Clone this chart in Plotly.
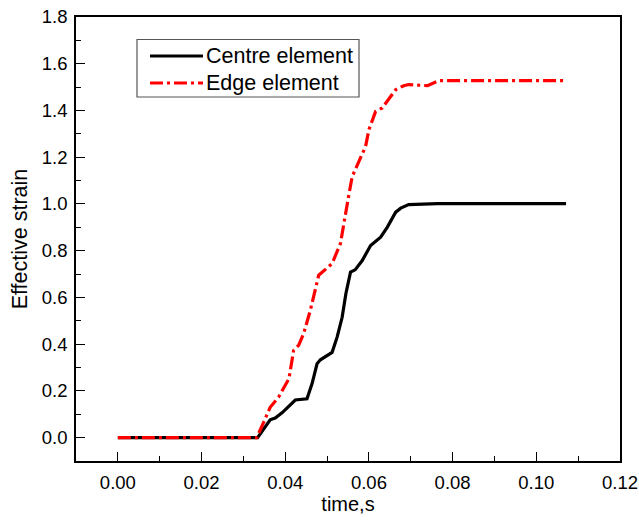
import plotly.graph_objects as go

# Data
centre_t = [0.0, 0.0334, 0.0364, 0.0376, 0.0393, 0.0424, 0.0452, 0.0464, 0.0476, 0.0484,
            0.0512, 0.0524, 0.0536, 0.0545, 0.0556, 0.0567, 0.0584, 0.0604, 0.0628,
            0.0644, 0.0664, 0.0676, 0.0695, 0.0752, 0.0764, 0.1071]
centre_v = [0.0, 0.0, 0.076, 0.084, 0.107, 0.161, 0.166, 0.230, 0.316, 0.333,
            0.365, 0.430, 0.515, 0.617, 0.708, 0.718, 0.758, 0.822, 0.858,
            0.901, 0.965, 0.982, 0.997, 0.998, 1.001, 1.001]

edge_t = [0.0, 0.0332, 0.0352, 0.0364, 0.0384, 0.0409, 0.0420, 0.0432, 0.0444, 0.0460,
          0.0480, 0.0500, 0.0512, 0.0532, 0.0544, 0.0552, 0.0560, 0.0580, 0.0592,
          0.0600, 0.0616, 0.0632, 0.0647, 0.0664, 0.0683, 0.0695, 0.0740, 0.0767, 0.1071]
edge_v = [0.0, 0.0, 0.080, 0.130, 0.173, 0.253, 0.373, 0.395, 0.445, 0.545,
          0.695, 0.724, 0.745, 0.831, 0.945, 1.039, 1.117, 1.203, 1.246,
          1.318, 1.396, 1.411, 1.446, 1.489, 1.506, 1.511, 1.506, 1.528, 1.528]

series_names = ["Centre element", "Edge element"]
x_ticks = [0.00, 0.02, 0.04, 0.06, 0.08, 0.10, 0.12]
y_ticks = [0.0, 0.2, 0.4, 0.6, 0.8, 1.0, 1.2, 1.4, 1.6, 1.8]

FONT = "Liberation Sans, Arial, sans-serif"
RED_DASH = "13px,4px,3px,4px"

fig = go.Figure()
fig.add_trace(go.Scatter(x=centre_t, y=centre_v, mode="lines", name=series_names[0],
                         line=dict(color="black", width=3.2), showlegend=False))
fig.add_trace(go.Scatter(x=edge_t, y=edge_v, mode="lines", name=series_names[1],
                         line=dict(color="#ff0000", width=3.2, dash=RED_DASH), showlegend=False))

axis_common = dict(
    showline=True, linecolor="black", linewidth=1.5, mirror=True,
    ticks="inside", ticklen=9, tickwidth=1.2, tickcolor="black",
    showgrid=False, zeroline=False, automargin=False,
    tickfont=dict(family=FONT, size=18.5, color="black"),
)

fig.update_xaxes(range=[-0.01, 0.12], tickvals=x_ticks,
                 ticktext=[f"{v:.2f}" for v in x_ticks],
                 ticklabelstandoff=4,
                 minor=dict(ticks="inside", ticklen=5, dtick=0.01, tick0=0, tickcolor="black"),
                 title=dict(text="time,s", font=dict(family=FONT, size=20, color="black"), standoff=0),
                 **axis_common)
fig.update_yaxes(range=[-0.1, 1.8], tickvals=y_ticks,
                 ticktext=[f"{v:.1f}" for v in y_ticks],
                 ticklabelstandoff=3,
                 minor=dict(ticks="inside", ticklen=5, dtick=0.1, tick0=0, tickcolor="black"),
                 title=dict(text="Effective strain", font=dict(family=FONT, size=21.5, color="black"), standoff=8),
                 **axis_common)

# Manual legend (box, line samples, labels) in pixel-derived paper coords
W, H = 639, 521
L, R, T, B = 76, 19, 17, 60
pw, ph = W - L - R, H - T - B
def px(x):
    return (x - L) / pw
def py(y):
    return 1 - (y - T) / ph

fig.add_shape(type="rect", xref="paper", yref="paper",
              x0=px(137), x1=px(359), y0=py(97), y1=py(39.5),
              line=dict(color="#555555", width=1.2), fillcolor="white")
fig.add_shape(type="line", xref="paper", yref="paper",
              x0=px(150), x1=px(203), y0=py(56), y1=py(56),
              line=dict(color="black", width=3.2))
fig.add_shape(type="line", xref="paper", yref="paper",
              x0=px(150), x1=px(203), y0=py(83), y1=py(83),
              line=dict(color="#ff0000", width=3.2, dash=RED_DASH))
for name, yy in zip(series_names, [56, 83]):
    fig.add_annotation(xref="paper", yref="paper", x=px(204), y=py(yy),
                       text=name, showarrow=False, xanchor="left", yanchor="middle",
                       font=dict(family=FONT, size=21.5, color="black"))

fig.update_layout(
    width=W, height=H,
    margin=dict(l=L, r=R, t=T, b=B),
    paper_bgcolor="white", plot_bgcolor="white",
    showlegend=False,
)

fig.write_html("out.html")
